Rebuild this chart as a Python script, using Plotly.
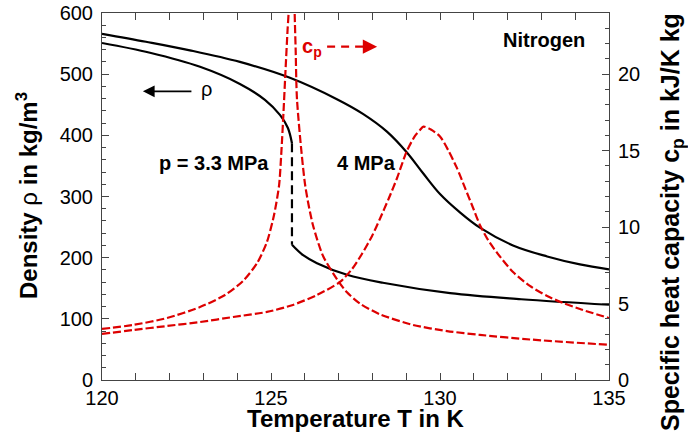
import plotly.graph_objects as go

# ---------------- data ----------------
# Density at p = 3.3 MPa (liquid branch, jump at saturation, gas branch)
T_rho33_liq = [120.0, 121.42, 122.9, 124.08, 124.82, 125.27, 125.5, 125.62]
rho33_liq = [551, 535, 512, 484, 458, 433, 412, 387]
T_rho33_jump = [125.62, 125.62]
rho33_jump = [387, 221]
T_rho33_gas = [125.62, 125.95, 126.36, 127.25, 128.31, 130.3, 132.4, 135.0]
rho33_gas = [221, 204, 191, 172, 159, 142, 132, 123]

# Density at p = 4 MPa
T_rho40 = [120.0, 121.3, 122.6, 124.08, 125.56, 126.95, 127.72, 128.43, 129.02,
           129.5, 130.0, 130.59, 131.18, 132.16, 133.17, 134.14, 135.0]
rho40 = [566, 553, 539, 520, 494, 459, 435, 406, 372,
         338, 304, 274, 249, 220, 202, 189, 181]

# Specific heat capacity at p = 3.3 MPa (liquid and gas branches)
T_cp33_liq = [120.0, 120.92, 121.92, 122.9, 123.64, 124.17, 124.59, 124.88, 125.09,
              125.24, 125.31, 125.37, 125.43, 125.49, 125.52, 125.55]
cp33_liq = [3.34, 3.6, 4.05, 4.77, 5.56, 6.47, 7.65, 9.03, 10.79,
            12.75, 15.04, 17.53, 20.27, 22.89, 24.0, 26.8]
T_cp33_gas = [125.68, 125.70, 125.73, 125.77, 126.01, 126.24, 126.54, 126.95, 127.24,
              127.63, 128.22, 129.2, 130.21, 131.18, 132.66, 135.0]
cp33_gas = [26.8, 24.0, 21.58, 18.31, 12.75, 10.14, 8.11, 6.6, 5.75,
            5.0, 4.3, 3.6, 3.2, 2.95, 2.65, 2.3]

# Specific heat capacity at p = 4 MPa
T_cp40 = [120.0, 120.92, 121.92, 122.9, 123.88, 124.88, 125.65, 126.36, 127.04,
          127.4, 127.69, 127.99, 128.22, 128.49, 128.73, 129.02, 129.26, 129.41,
          129.51, 129.73, 130.0, 130.24, 130.5, 130.74, 130.98, 131.18, 131.42,
          131.69, 132.16, 132.66, 133.17, 133.64, 134.14, 135.0]
cp40 = [3.01, 3.27, 3.53, 3.79, 4.12, 4.45, 4.91, 5.56, 6.41,
        7.26, 8.24, 9.42, 10.53, 11.9, 13.21, 14.98, 15.96, 16.35,
        16.57, 16.38, 15.93, 15.04, 13.87, 12.56, 11.25, 10.14, 9.16,
        8.31, 7.06, 6.15, 5.49, 5.04, 4.64, 4.05]

x_ticks = [120, 125, 130, 135]
rho_ticks = [0, 100, 200, 300, 400, 500, 600]
cp_ticks = [0, 5, 10, 15, 20]

FONT = "Liberation Sans, Arial, Helvetica, sans-serif"
BLACK = "#000000"
RED = "#dd0000"
AX = "#444444"

fig = go.Figure()

def black(x, y, dash=None):
    fig.add_trace(go.Scatter(x=x, y=y, mode="lines", showlegend=False,
                             line=dict(color=BLACK, width=2.2, dash=dash,
                                       shape="spline" if dash is None else "linear",
                                       smoothing=1.0), hoverinfo="skip"))

def red(x, y):
    fig.add_trace(go.Scatter(x=x, y=y, mode="lines", yaxis="y2", showlegend=False,
                             line=dict(color=RED, width=2.2, dash="8px,3px",
                                       shape="spline", smoothing=0.7), hoverinfo="skip"))

red(T_cp33_liq, cp33_liq)
red(T_cp33_gas, cp33_gas)
red(T_cp40, cp40)
black(T_rho33_liq, rho33_liq)
black(T_rho33_jump, rho33_jump, dash="9px,5px")
black(T_rho33_gas, rho33_gas)
black(T_rho40, rho40)

# red dashed arrow shaft for c_p
fig.add_trace(go.Scatter(x=[126.66, 127.9], y=[545, 545], mode="lines", showlegend=False,
                         line=dict(color=RED, width=2.2, dash="8px,6px"), hoverinfo="skip"))

ann = []
ann.append(dict(x=123.31, y=355, xref="x", yref="y", text="<b>p = 3.3 MPa</b>", showarrow=False,
                font=dict(family=FONT, size=20, color=BLACK)))
ann.append(dict(x=127.84, y=355, xref="x", yref="y", text="<b>4 MPa</b>", showarrow=False,
                font=dict(family=FONT, size=20, color=BLACK)))
ann.append(dict(x=133.08, y=556, xref="x", yref="y", text="<b>Nitrogen</b>", showarrow=False,
                font=dict(family=FONT, size=20, color=BLACK)))
ann.append(dict(x=123.1, y=476, xref="x", yref="y", text="ρ", showarrow=False,
                font=dict(family=FONT, size=20, color=BLACK)))
# rho arrow (pointing left)
ann.append(dict(x=121.21, y=472, ax=122.69, ay=472, xref="x", yref="y", axref="x", ayref="y",
                text="", showarrow=True, arrowhead=2, arrowsize=1.3, arrowwidth=1.8,
                arrowcolor=BLACK))
ann.append(dict(x=126.21, y=544, xref="x", yref="y", text="<b>c<sub>p</sub></b>", showarrow=False,
                font=dict(family=FONT, size=20, color=RED)))
# c_p arrow head
ann.append(dict(x=128.14, y=545, ax=127.75, ay=545, xref="x", yref="y", axref="x", ayref="y",
                text="", showarrow=True, arrowhead=2, arrowsize=1.3, arrowwidth=2.2,
                arrowcolor=RED))

W, H = 688, 439
L, T = 102, 13
R = W - 609
B = H - 380
pw, ph = W - L - R, H - T - B

def px(xs):
    return (xs - L) / pw

def py(ys):
    return (H - B - ys) / ph

ann.append(dict(x=px(356), y=py(419), xref="paper", yref="paper", showarrow=False,
                xanchor="center", yanchor="middle",
                text="<b>Temperature T in K</b>", font=dict(family=FONT, size=24, color=BLACK)))
ann.append(dict(x=px(27), y=py(196), xref="paper", yref="paper", showarrow=False, textangle=-90,
                xanchor="center", yanchor="middle",
                text="<b>Density </b>ρ<b> in kg/m<sup>3</sup></b>",
                font=dict(family=FONT, size=24, color=BLACK)))
ann.append(dict(x=px(672), y=py(433), xref="paper", yref="paper", showarrow=False, textangle=-90,
                xanchor="center", yanchor="bottom",
                text="<b>Specific heat capacity c<sub>p</sub> in kJ/K kg</b>",
                font=dict(family=FONT, size=25, color=BLACK)))

axis_common = dict(showgrid=False, zeroline=False, showline=True, linecolor=AX, linewidth=1,
                   ticks="inside", ticklen=7, tickcolor=AX, tickwidth=1, automargin=False,
                   ticklabeloverflow="allow",
                   tickfont=dict(family=FONT, size=20, color=BLACK))

fig.update_layout(
    width=W, height=H, margin=dict(l=L, r=R, t=T, b=B, autoexpand=False),
    paper_bgcolor="white", plot_bgcolor="white",
    xaxis=dict(range=[120, 135], tickvals=x_ticks, mirror="allticks",
               minor=dict(dtick=1, ticks="inside", ticklen=4, tickcolor=AX), **axis_common),
    yaxis=dict(range=[0, 600], tickvals=rho_ticks, ticklabelstandoff=4,
               minor=dict(dtick=20, ticks="inside", ticklen=4, tickcolor=AX), **axis_common),
    yaxis2=dict(range=[0, 24], tickvals=cp_ticks, overlaying="y", side="right", ticklabelstandoff=4,
                minor=dict(dtick=1, ticks="inside", ticklen=4, tickcolor=AX), **axis_common),
    annotations=ann,
)

# remove the browser's default 8 px page margin so the figure fills the window exactly
fig.write_html("out.html", config={"displayModeBar": False},
               post_script="document.body.style.margin='0px';")
